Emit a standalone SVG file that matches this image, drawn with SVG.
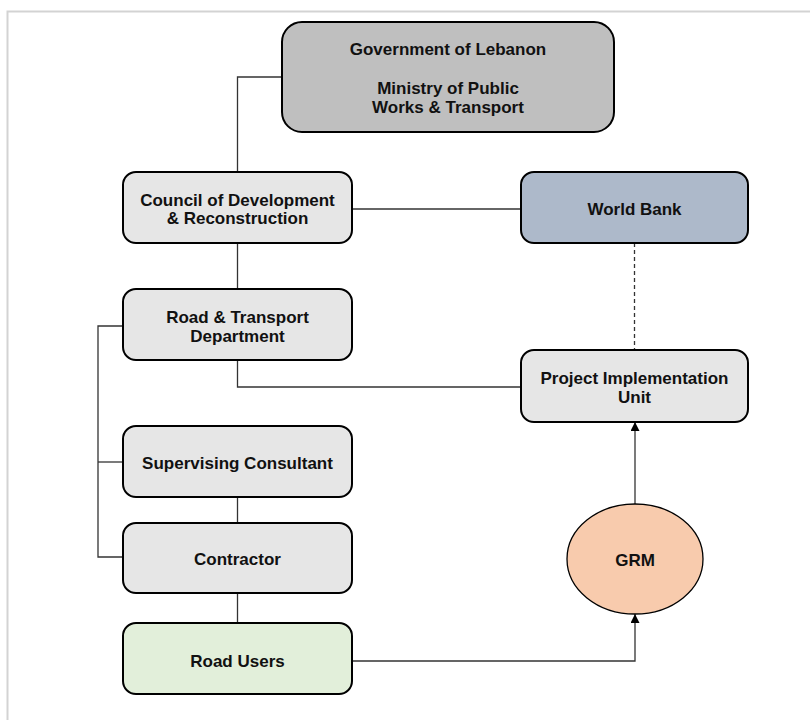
<svg xmlns="http://www.w3.org/2000/svg" width="810" height="720" viewBox="0 0 810 720">
<defs>
<style>
.box{stroke:#000;stroke-width:2}
.lbl{font-family:"Liberation Sans",Arial,sans-serif;font-weight:bold;font-size:17px;fill:#111;text-anchor:middle}
.con{fill:none;stroke:#333;stroke-width:1.3}
</style>
<marker id="arr" viewBox="0 0 10 10" refX="10" refY="5" markerWidth="9" markerHeight="9" markerUnits="userSpaceOnUse" orient="auto">
<path d="M0,0 L10,5 L0,10 Z" fill="#000"/>
</marker>
</defs>
<rect width="810" height="720" fill="#fff"/>
<path d="M7.5,720 V11.5 H810" fill="none" stroke="#d3d3d3" stroke-width="2"/>
<g id="connectors">
<path class="con" d="M282,77 H237.5 V172"/>
<path class="con" d="M352,209 H521"/>
<path class="con" d="M237.5,243 V289"/>
<path class="con" d="M237.5,360 V387 H521"/>
<path class="con" d="M634.5,243 V350" stroke-dasharray="4,3"/>
<path class="con" d="M123,326 H98 V557 H123"/>
<path class="con" d="M98,462 H123"/>
<path class="con" d="M237.5,497 V523"/>
<path class="con" d="M237.5,593 V623"/>
<path class="con" d="M352,661 H635 V614" marker-end="url(#arr)"/>
<path class="con" d="M635,504 V422" marker-end="url(#arr)"/>
</g>
<g id="gov">
<rect class="box" x="282" y="22" width="332" height="110" rx="20" fill="#bfbfbf"/>
<text class="lbl" x="448" y="55">Government of Lebanon</text>
<text class="lbl" x="448" y="94">Ministry of Public</text>
<text class="lbl" x="448" y="113">Works &amp; Transport</text>
</g>
<g id="cdr">
<rect class="box" x="123" y="172" width="229" height="71" rx="13" fill="#e6e6e6"/>
<text class="lbl" x="237.5" y="206">Council of Development</text>
<text class="lbl" x="237.5" y="224">&amp; Reconstruction</text>
</g>
<g id="wb">
<rect class="box" x="521" y="172" width="227" height="71" rx="13" fill="#adb9ca"/>
<text class="lbl" x="634.5" y="215">World Bank</text>
</g>
<g id="rtd">
<rect class="box" x="123" y="289" width="229" height="71" rx="13" fill="#e6e6e6"/>
<text class="lbl" x="237.5" y="323">Road &amp; Transport</text>
<text class="lbl" x="237.5" y="342">Department</text>
</g>
<g id="piu">
<rect class="box" x="521" y="350" width="227" height="72" rx="13" fill="#e6e6e6"/>
<text class="lbl" x="634.5" y="384">Project Implementation</text>
<text class="lbl" x="634.5" y="403">Unit</text>
</g>
<g id="sc">
<rect class="box" x="123" y="426" width="229" height="71" rx="13" fill="#e6e6e6"/>
<text class="lbl" x="237.5" y="469">Supervising Consultant</text>
</g>
<g id="contractor">
<rect class="box" x="123" y="523" width="229" height="70" rx="13" fill="#e6e6e6"/>
<text class="lbl" x="237.5" y="565">Contractor</text>
</g>
<g id="users">
<rect class="box" x="123" y="623" width="229" height="71" rx="13" fill="#e2efda"/>
<text class="lbl" x="237.5" y="667">Road Users</text>
</g>
<g id="grm">
<ellipse cx="635" cy="559" rx="68" ry="55" fill="#f8cbad" stroke="#000" stroke-width="1.3"/>
<text class="lbl" x="635" y="566">GRM</text>
</g>
</svg>
